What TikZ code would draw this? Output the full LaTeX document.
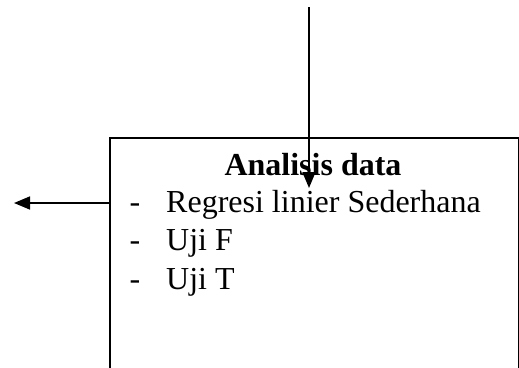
\documentclass[tikz,border=0pt]{standalone}
\usepackage{fontspec}
\setmainfont{Liberation Serif}
\usetikzlibrary{arrows.meta}
\begin{document}
\begin{tikzpicture}[x=1pt,y=-1pt,
    frame/.style={draw=black,line width=1.6pt,anchor=north west,inner sep=0pt},
    flow/.style={draw=black,line width=1.6pt,-{Triangle[length=16pt,width=13pt]}},
    txt/.style={font=\fontsize{32}{38}\selectfont,inner sep=0pt},
    heading/.style={txt,font=\fontsize{32}{38}\selectfont\bfseries,anchor=base},
    item/.style={txt,anchor=base west},
    bullet/.style={txt,anchor=base}]
  \useasboundingbox (0,0) rectangle (519,367);
  \clip (0,0) rectangle (519,367);
  % process box, its lower part runs on past the page
  \node[frame,minimum width=409pt,minimum height=300pt] (box) at (109,137) {};
  % box contents
  \node[heading] (head) at (313,175) {Analisis data};
  \node[bullet] (d1) at (135,212) {-};
  \node[item] (i1) at (166,212) {Regresi linier Sederhana};
  \node[bullet] (d2) at (135,250) {-};
  \node[item] (i2) at (166,250) {Uji F};
  \node[bullet] (d3) at (135,289) {-};
  \node[item] (i3) at (166,289) {Uji T};
  % incoming and outgoing flow
  \coordinate (src) at (309,7);
  \coordinate (in) at (309,188);
  \coordinate (out) at (14,203);
  \draw[flow] (src) -- (in);
  \draw[flow] (box.west |- out) -- (out);
\end{tikzpicture}
\end{document}
